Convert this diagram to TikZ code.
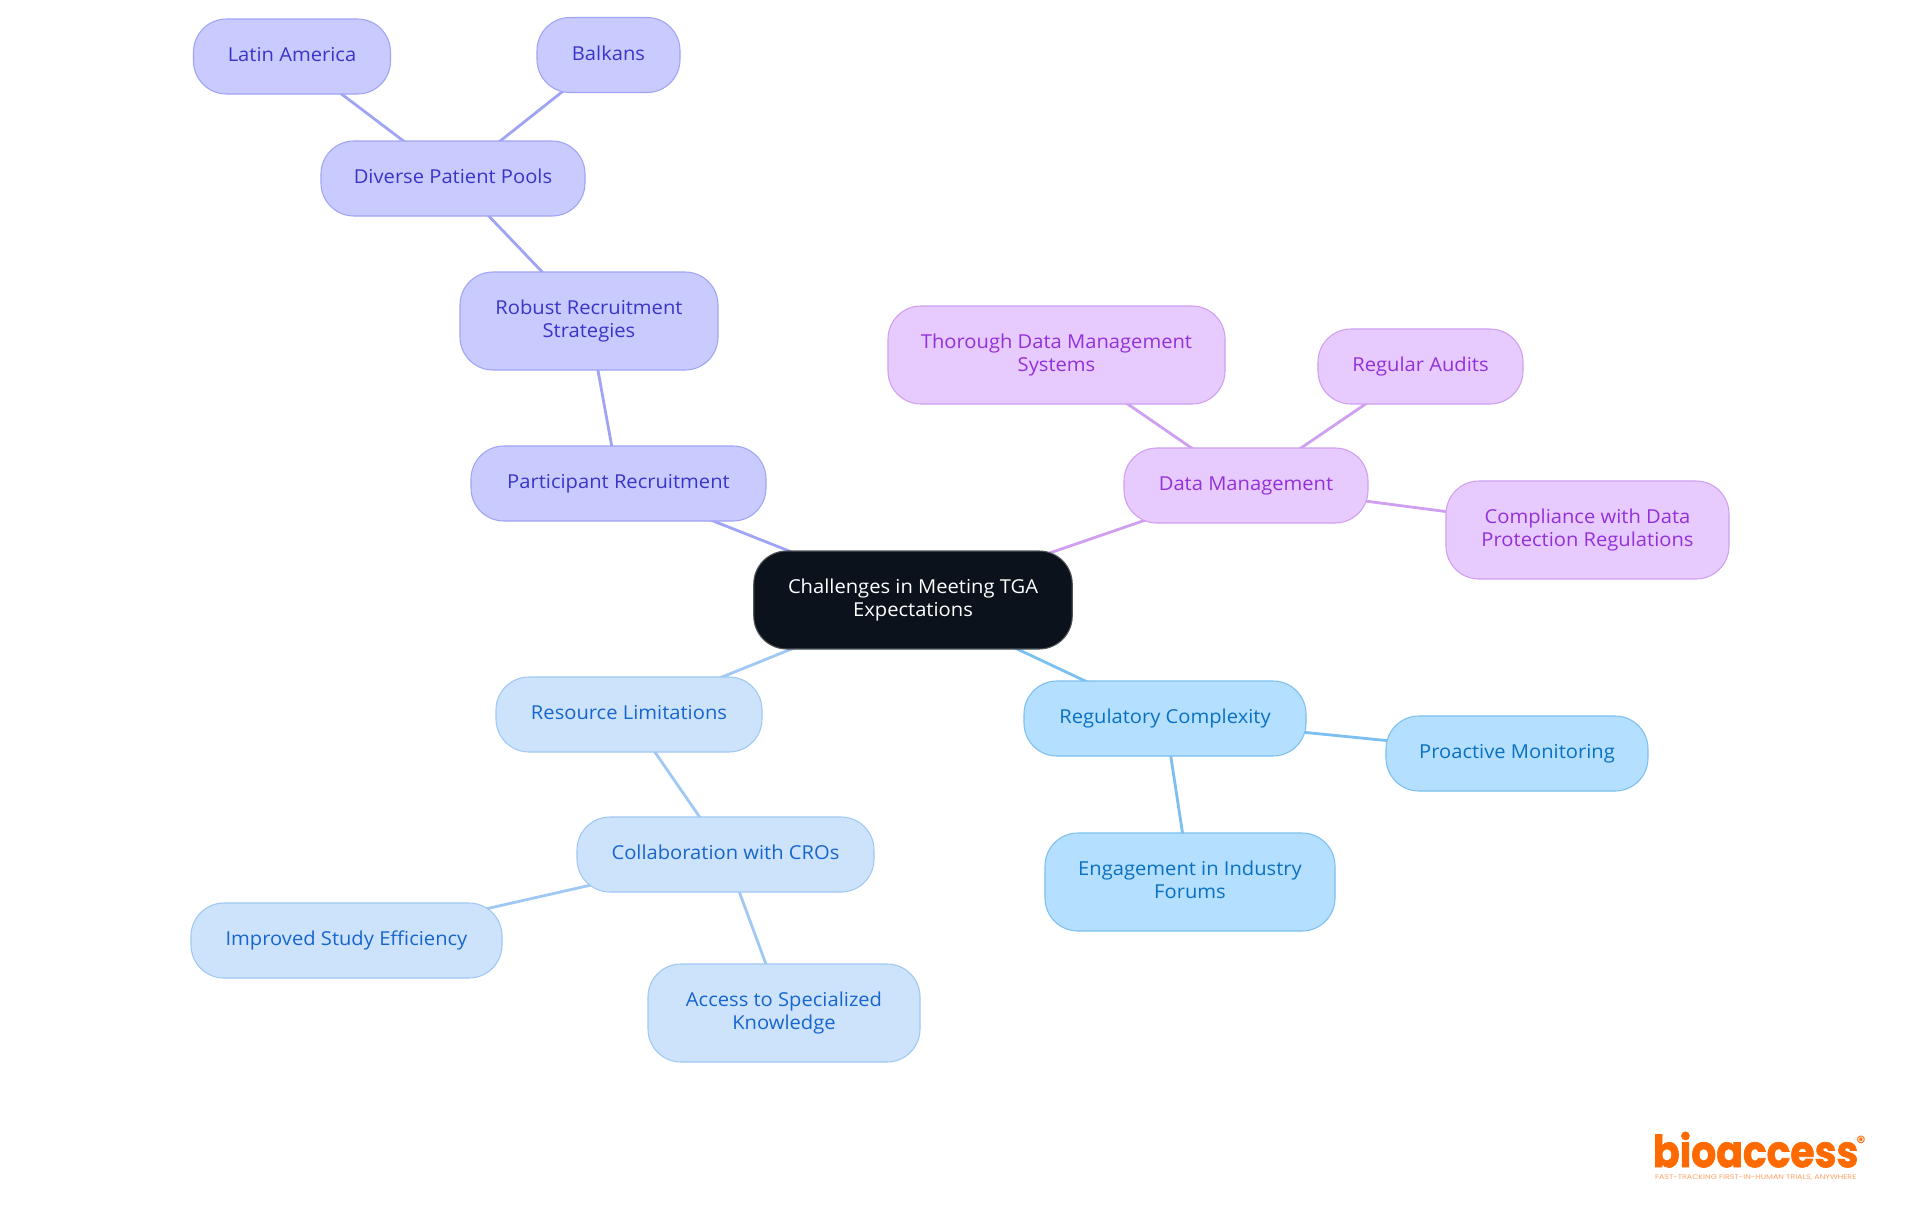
\documentclass[tikz,border=0pt]{standalone}
\usepackage{fontspec}
\usepackage{graphicx}
\setmainfont{Open Sans}[FakeStretch=1.05]
\newfontfamily\logofont{Poppins}
\newcommand{\mapfont}{\fontsize{14.4}{17}\selectfont}
\newcommand{\mapstrut}{\rule[-3.9pt]{0pt}{15.9pt}}
\usetikzlibrary{backgrounds}
\definecolor{indF}{HTML}{C9CBFE}\definecolor{indS}{HTML}{A0A4F4}\definecolor{indT}{HTML}{3A35C8}
\definecolor{purF}{HTML}{E8CBFE}\definecolor{purS}{HTML}{CF9FF2}\definecolor{purT}{HTML}{9231DB}
\definecolor{skyF}{HTML}{B4DFFE}\definecolor{skyS}{HTML}{7CC0F1}\definecolor{skyT}{HTML}{0A71C2}
\definecolor{bluF}{HTML}{CDE3FC}\definecolor{bluS}{HTML}{A0C8F4}\definecolor{bluT}{HTML}{1766CE}
\definecolor{rootF}{HTML}{0B121B}\definecolor{rootS}{HTML}{50555B}
\definecolor{logoC}{HTML}{FF6A00}\definecolor{logoT}{HTML}{FFA366}
\tikzset{
  bx/.style 2 args={minimum width=#1*0.75pt,minimum height=#2*0.75pt},
  topic/.style={rectangle,rounded corners=24.75pt,draw,line width=0.8pt,inner sep=0pt,outer sep=0pt,align=center,font=\mapfont,
    execute at begin node=\mapstrut,execute at end node=\mapstrut},
  ind/.style={topic,fill=indF,draw=indS,text=indT},
  pur/.style={topic,fill=purF,draw=purS,text=purT},
  sky/.style={topic,fill=skyF,draw=skyS,text=skyT},
  blu/.style={topic,fill=bluF,draw=bluS,text=bluT},
  rootbox/.style={topic,fill=rootF,draw=rootS,text=white},
  link/.style={line width=2.1pt},
  logotext/.style={inner sep=0pt,outer sep=0pt,text=logoC}
}
\begin{document}
\begin{tikzpicture}[x=0.75pt,y=-0.75pt]
\useasboundingbox (0,0) rectangle (1920,1215);
\node[rootbox,bx={318.5}{98}] (root) at (913,600) {Challenges in Meeting TGA\\Expectations};
\node[ind,bx={295}{75}] (part) at (618.5,483.5) {Participant Recruitment};
\node[ind,bx={258}{98}] (robust) at (589,321) {Robust Recruitment\\Strategies};
\node[ind,bx={264}{75}] (diverse) at (453,178.5) {Diverse Patient Pools};
\node[ind,bx={197}{75}] (latin) at (292,56.5) {Latin America};
\node[ind,bx={143}{75}] (balkans) at (608.5,55) {Balkans};
\node[pur,bx={244}{75}] (data) at (1246,485.5) {Data Management};
\node[pur,bx={337}{98}] (thorough) at (1056.5,355) {Thorough Data Management\\Systems};
\node[pur,bx={205}{75}] (audits) at (1420.5,366.5) {Regular Audits};
\node[pur,bx={283}{98}] (comp) at (1587.5,530) {Compliance with Data\\Protection Regulations};
\node[sky,bx={282}{75}] (reg) at (1165,718.5) {Regulatory Complexity};
\node[sky,bx={262}{75}] (pro) at (1517,753.5) {Proactive Monitoring};
\node[sky,bx={290}{98}] (eng) at (1190,882) {Engagement in Industry\\Forums};
\node[blu,bx={266}{75}] (res) at (629,714.5) {Resource Limitations};
\node[blu,bx={297}{75}] (col) at (725.5,854.5) {Collaboration with CROs};
\node[blu,bx={311}{75}] (imp) at (346.5,940.5) {Improved Study Efficiency};
\node[blu,bx={272}{98}] (acc) at (784,1013) {Access to Specialized\\Knowledge};
\begin{pgfonlayer}{background}
\fill[white] (0,0) rectangle (1920,1215);
\draw[link,indS] (root.center) -- (part.center);
\draw[link,indS] (part.center) -- (robust.center);
\draw[link,indS] (robust.center) -- (diverse.center);
\draw[link,indS] (diverse.center) -- (latin.center);
\draw[link,indS] (diverse.center) -- (balkans.center);
\draw[link,purS] (root.center) -- (data.center);
\draw[link,purS] (data.center) -- (thorough.center);
\draw[link,purS] (data.center) -- (audits.center);
\draw[link,purS] (data.center) -- (comp.center);
\draw[link,skyS] (root.center) -- (reg.center);
\draw[link,skyS] (reg.center) -- (pro.center);
\draw[link,skyS] (reg.center) -- (eng.center);
\draw[link,bluS] (root.center) -- (res.center);
\draw[link,bluS] (res.center) -- (col.center);
\draw[link,bluS] (col.center) -- (imp.center);
\draw[link,bluS] (col.center) -- (acc.center);
\end{pgfonlayer}
\node[logotext,anchor=south west] (logo) at (1653,1167.5) {\resizebox{154pt}{26.5pt}{\logofont\bfseries\addfontfeature{FakeBold=1.5}bioaccess}};
\node[logotext,anchor=center] (regmark) at (1861,1142) {\logofont\bfseries\fontsize{13}{14}\selectfont ®};
\node[logotext,text=logoT,anchor=north west] (tag) at (1655,1175) {\resizebox{151pt}{3.6pt}{\logofont\fontsize{5}{6}\selectfont FAST-TRACKING FIRST-IN-HUMAN TRIALS, ANYWHERE}};
\end{tikzpicture}
\end{document}
